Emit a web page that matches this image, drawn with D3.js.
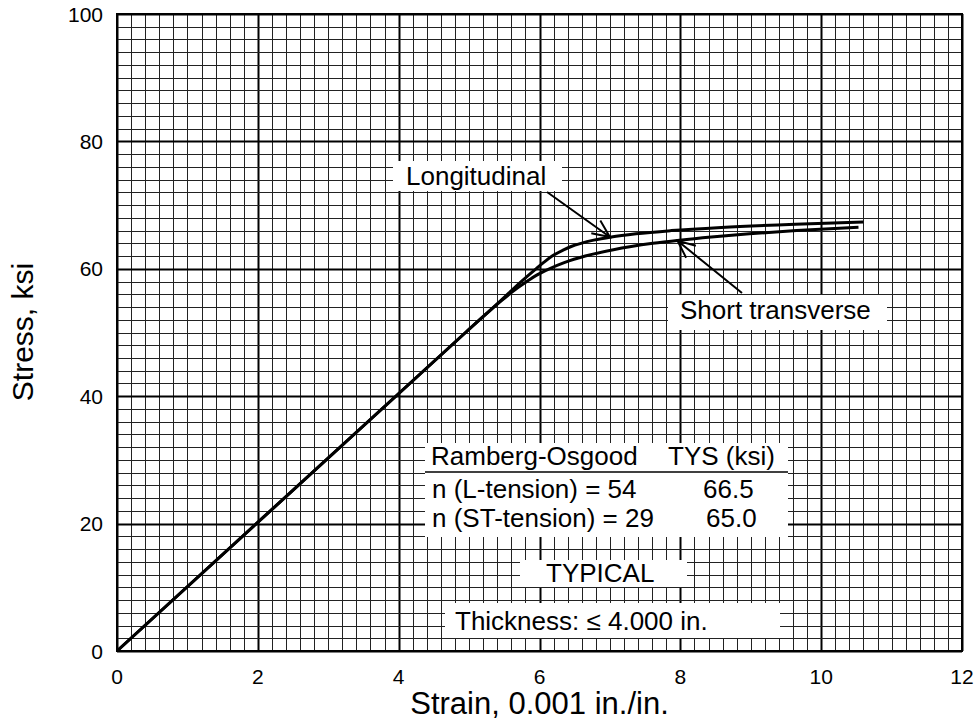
<!DOCTYPE html>
<html>
<head>
<meta charset="utf-8">
<script src="https://cdn.jsdelivr.net/npm/d3@7"></script>
<style>
  body { margin: 0; background: #fff; }
  svg text { font-family: "Liberation Sans", Arial, Helvetica, sans-serif; fill: #000; }
</style>
</head>
<body>
<svg id="chart" width="977" height="721"></svg>
<script>
// ---- data ----
const strainL  = [0, 4.95, 5.45, 5.74, 5.95, 6.06, 6.18, 6.35, 6.45, 6.59, 6.77, 7.02, 7.37, 7.87, 8.58, 9.63, 10.60];
const stressL  = [0, 50,   55,   58,   60,   61,   62,   63,   63.5, 64,   64.5, 65,   65.5, 66,   66.5, 67,   67.33];
const strainST = [0, 4.95, 5.25, 5.46, 5.69, 5.82, 5.96, 6.14, 6.36, 6.65, 7.05, 7.61, 7.99, 8.44, 8.98, 9.65, 10.46, 10.53];
const stressST = [0, 50,   53,   55,   57,   58,   59,   60,   61,   62,   63,   64,   64.5, 65,   65.5, 66,   66.5,  66.54];
const xTicks = [0, 2, 4, 6, 8, 10, 12];
const yTicks = [0, 20, 40, 60, 80, 100];
const xTitle = "Strain, 0.001 in./in.";
const yTitle = "Stress, ksi";
const labelL = "Longitudinal";
const labelST = "Short transverse";
const tableHeader = ["Ramberg-Osgood", "TYS (ksi)"];
const tableRows = [["n (L-tension) = 54", "66.5"], ["n (ST-tension) = 29", "65.0"]];
const typicalText = "TYPICAL";
const thicknessText = "Thickness: \u2264 4.000 in.";

// ---- layout ----
const svg = d3.select("#chart");
const x = d3.scaleLinear().domain([0, 12]).range([117, 962]);
const y = d3.scaleLinear().domain([0, 100]).range([651, 14]);

// grid
const g = svg.append("g");
const minorX = d3.range(0, 12.0001, 0.2);
const minorY = d3.range(0, 100.0001, 2);
g.selectAll("line.vx").data(minorX).enter().append("line")
  .attr("x1", d => Math.round(x(d)) + 0.5).attr("x2", d => Math.round(x(d)) + 0.5)
  .attr("y1", y(100)).attr("y2", y(0))
  .attr("stroke", d => Math.abs(d / 2 - Math.round(d / 2)) < 1e-6 ? "#000" : "#222")
  .attr("stroke-width", d => Math.abs(d / 2 - Math.round(d / 2)) < 1e-6 ? 2 : 1);
g.selectAll("line.hy").data(minorY).enter().append("line")
  .attr("y1", d => Math.round(y(d)) + 0.5).attr("y2", d => Math.round(y(d)) + 0.5)
  .attr("x1", x(0)).attr("x2", x(12))
  .attr("stroke", d => d % 20 === 0 ? "#000" : "#222")
  .attr("stroke-width", d => d % 20 === 0 ? 2 : 1);
g.append("rect").attr("x", x(0)).attr("y", y(100))
  .attr("width", x(12) - x(0)).attr("height", y(0) - y(100))
  .attr("fill", "none").attr("stroke", "#000").attr("stroke-width", 2);

// axes tick labels
svg.append("g").selectAll("text").data(xTicks).enter().append("text")
  .attr("x", d => x(d)).attr("y", 684).attr("text-anchor", "middle")
  .attr("font-size", 21).text(d => d);
svg.append("g").selectAll("text").data(yTicks).enter().append("text")
  .attr("x", 103).attr("y", d => y(d) + 7.5).attr("text-anchor", "end")
  .attr("font-size", 21).text(d => d);

// axis titles
svg.append("text").attr("x", (x(0) + x(12)) / 2).attr("y", 714)
  .attr("text-anchor", "middle").attr("font-size", 31).text(xTitle);
svg.append("text").attr("transform", "translate(33,332) rotate(-90)")
  .attr("text-anchor", "middle").attr("font-size", 30).text(yTitle);

// white label boxes (hide grid)
function box(x0, y0, x1, y1) {
  svg.append("rect").attr("x", x0).attr("y", y0).attr("width", x1 - x0).attr("height", y1 - y0)
    .attr("fill", "#fff");
}
box(393, 161, 562, 191);
box(668, 295, 887, 330);
box(425, 443, 788, 537);
box(520, 560, 687, 587);
box(445, 603, 780, 638);

// curves
const line = d3.line().x(d => x(d[0])).y(d => y(d[1])).curve(d3.curveMonotoneX);
const dataL = strainL.map((s, i) => [s, stressL[i]]);
const dataST = strainST.map((s, i) => [s, stressST[i]]);
svg.append("path").datum(dataST).attr("d", line)
  .attr("fill", "none").attr("stroke", "#000").attr("stroke-width", 3);
svg.append("path").datum(dataL).attr("d", line)
  .attr("fill", "none").attr("stroke", "#000").attr("stroke-width", 3);

// arrows (open V heads)
function arrow(x0, y0, x1, y1) {
  const ang = Math.atan2(y1 - y0, x1 - x0);
  const len = 19, spread = 0.42;
  const p = d3.path();
  p.moveTo(x0, y0); p.lineTo(x1, y1);
  p.moveTo(x1 - len * Math.cos(ang - spread), y1 - len * Math.sin(ang - spread));
  p.lineTo(x1, y1);
  p.lineTo(x1 - len * Math.cos(ang + spread), y1 - len * Math.sin(ang + spread));
  svg.append("path").attr("d", p.toString()).attr("fill", "none")
    .attr("stroke", "#000").attr("stroke-width", 2);
}
arrow(547, 192, x(7.0), y(65.0));
arrow(742, 293, x(7.96), y(64.4));

// labels
const fs = 26;
svg.append("text").attr("x", 406).attr("y", 185).attr("font-size", fs).text(labelL);
svg.append("text").attr("x", 680).attr("y", 319).attr("font-size", fs).text(labelST);

svg.append("text").attr("x", 431).attr("y", 465).attr("font-size", fs).text(tableHeader[0]);
svg.append("text").attr("x", 668).attr("y", 465).attr("font-size", fs).text(tableHeader[1]);
svg.append("line").attr("x1", 425).attr("x2", 788).attr("y1", 472).attr("y2", 472)
  .attr("stroke", "#000").attr("stroke-width", 1.5);
const rowY = [498, 527];
const valX = [703, 706];
tableRows.forEach((r, i) => {
  svg.append("text").attr("x", 432).attr("y", rowY[i]).attr("font-size", fs).text(r[0]);
  svg.append("text").attr("x", valX[i]).attr("y", rowY[i]).attr("font-size", fs).text(r[1]);
});
svg.append("text").attr("x", 546).attr("y", 582).attr("font-size", fs).text(typicalText);
svg.append("text").attr("x", 455).attr("y", 630).attr("font-size", fs).text(thicknessText);
</script>
</body>
</html>
